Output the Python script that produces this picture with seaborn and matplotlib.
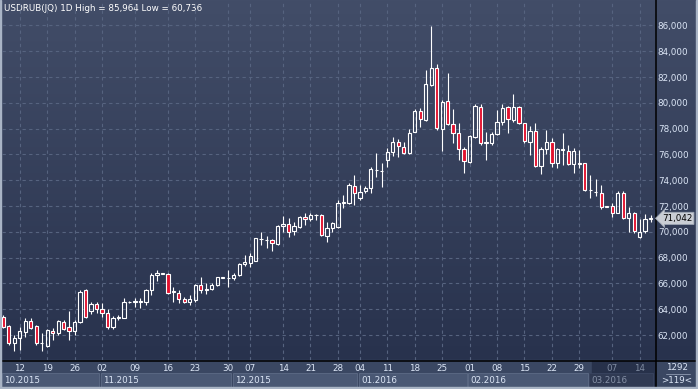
import matplotlib
matplotlib.use("Agg")
import matplotlib.pyplot as plt
import matplotlib.transforms as mtransforms
from matplotlib.colors import LinearSegmentedColormap
from matplotlib.patches import Rectangle
import numpy as np
import pandas as pd
import seaborn as sns

# USDRUB daily candles, Oct 2015 - Mar 2016
opens = [63.42, 62.70, 61.36, 61.74, 62.26, 63.09, 62.70, 61.36, 61.15, 62.33,
         62.13, 62.98, 62.60, 62.31, 62.98, 65.49, 63.88, 64.40, 63.99, 63.73,
         62.60, 63.29, 63.34, 64.55, 64.53, 64.55, 64.53, 65.49, 66.65, 66.76,
         66.71, 65.33, 65.23, 64.77, 64.58, 64.71, 65.88, 65.52, 65.54, 65.88,
         66.45, 66.42, 66.39, 66.65, 67.50, 67.60, 67.76, 69.42, 69.34, 69.36,
         69.05, 70.45, 70.60, 70.09, 70.40, 71.17, 70.97, 71.30, 71.30, 69.70,
         70.27, 70.40, 72.22, 72.26, 73.55, 72.60, 73.19, 73.37, 74.76, 74.70,
         75.57, 76.21, 76.99, 76.60, 76.09, 77.76, 79.39, 78.67, 81.38, 82.67,
         77.94, 80.16, 78.33, 77.63, 76.40, 75.43, 77.37, 79.70, 76.88, 76.86,
         77.58, 78.54, 79.70, 78.67, 79.65, 78.41, 76.98, 77.84, 75.10, 76.40,
         76.98, 75.31, 76.37, 76.29, 75.26, 75.29, 75.31, 73.22, 73.10, 73.03,
         71.93, 72.00, 71.48, 72.98, 71.04, 71.48, 69.62, 70.06, 71.00]
highs = [63.55, 62.78, 62.00, 62.64, 63.29, 63.29, 62.78, 62.15, 62.50, 62.52,
         63.16, 63.16, 63.86, 63.16, 65.50, 65.60, 64.58, 64.58, 64.45, 64.00,
         63.50, 63.55, 64.84, 64.62, 64.84, 64.84, 65.54, 66.78, 67.04, 66.80,
         66.80, 65.74, 65.49, 64.92, 65.10, 65.93, 66.47, 66.05, 66.05, 66.52,
         66.52, 67.04, 66.78, 67.56, 68.20, 68.38, 69.55, 70.01, 69.67, 69.42,
         70.50, 71.22, 71.04, 70.73, 71.22, 71.48, 71.43, 71.38, 71.35, 70.78,
         70.78, 72.47, 72.85, 73.76, 74.40, 73.63, 73.55, 75.05, 76.13, 75.36,
         76.47, 77.32, 77.17, 76.99, 77.94, 79.50, 79.57, 82.54, 85.964, 83.01,
         80.22, 82.30, 79.50, 78.41, 76.60, 77.50, 79.91, 79.91, 77.76, 77.76,
         79.44, 79.91, 79.75, 80.68, 79.75, 78.46, 78.20, 78.41, 76.60, 77.90,
         77.25, 76.47, 77.63, 76.73, 76.47, 76.34, 75.36, 74.40, 74.07, 73.63,
         72.00, 72.21, 73.16, 73.16, 71.90, 71.56, 70.97, 71.38, 71.30]
lows = [62.55, 61.22, 60.78, 60.84, 61.87, 62.44, 61.22, 60.736, 61.10, 61.61,
        62.00, 62.36, 61.61, 61.97, 62.90, 63.30, 63.60, 63.68, 63.42, 62.50,
        62.50, 63.16, 63.29, 64.50, 64.19, 64.07, 64.33, 65.10, 66.21, 66.74,
        65.20, 64.58, 64.46, 64.46, 64.33, 64.58, 65.23, 65.18, 65.49, 65.80,
        66.42, 65.74, 66.26, 66.60, 67.35, 67.25, 67.70, 68.98, 68.72, 68.53,
        69.00, 70.01, 69.62, 69.75, 70.27, 70.53, 70.86, 70.91, 69.70, 69.23,
        70.01, 70.30, 71.82, 72.16, 72.08, 72.47, 72.98, 72.98, 74.27, 73.50,
        75.05, 75.88, 75.77, 76.05, 76.03, 77.76, 78.10, 78.62, 81.30, 77.89,
        76.29, 78.30, 76.91, 75.57, 74.58, 75.31, 77.25, 76.73, 75.57, 76.73,
        77.50, 78.28, 77.63, 78.54, 78.36, 76.91, 75.95, 75.00, 74.48, 76.03,
        75.00, 74.92, 75.18, 75.18, 74.53, 74.92, 73.19, 72.60, 72.78, 71.74,
        71.90, 71.17, 71.43, 70.97, 70.01, 69.88, 69.50, 69.88, 70.78]
closes = [62.64, 61.36, 61.74, 62.31, 63.09, 62.57, 61.36, 61.40, 62.39, 62.13,
          63.09, 62.47, 62.33, 62.98, 65.36, 63.42, 64.40, 63.99, 63.68, 62.60,
          63.29, 63.42, 64.58, 64.58, 64.64, 64.62, 65.49, 66.65, 66.83, 66.80,
          65.28, 65.38, 64.77, 64.58, 64.77, 65.88, 65.49, 65.56, 65.88, 66.47,
          66.49, 66.45, 66.65, 67.48, 67.68, 68.12, 69.50, 69.46, 69.38, 69.11,
          70.45, 70.60, 70.01, 70.45, 71.17, 70.97, 71.30, 71.32, 69.75, 70.27,
          70.66, 72.26, 72.28, 73.63, 72.98, 73.11, 73.37, 74.84, 74.82, 74.74,
          76.21, 76.99, 76.68, 76.09, 77.63, 79.39, 78.72, 81.46, 82.67, 78.02,
          80.09, 78.36, 77.63, 76.40, 75.46, 77.45, 79.75, 76.86, 76.93, 77.55,
          78.54, 79.62, 78.72, 79.70, 78.41, 77.04, 77.84, 75.10, 76.40, 76.98,
          75.31, 76.40, 76.42, 75.26, 76.29, 75.33, 73.24, 73.26, 73.12, 71.95,
          71.97, 71.48, 72.98, 71.04, 71.48, 70.09, 70.01, 70.97, 71.042]

tickBars = [4, 9, 14, 19, 25, 31, 36, 42, 46, 52, 57, 62, 66, 71, 76, 81, 86,
            91, 96, 101, 106, 112, 117]
tickLabels = ['12', '19', '26', '02', '09', '16', '23', '30', '07', '14', '21',
              '28', '04', '11', '18', '25', '01', '08', '15', '22', '29', '07', '14']
monthStarts = [1, 19, 43, 66, 86, 108]
monthLabels = ['10.2015', '11.2015', '12.2015', '01.2016', '02.2016', '03.2016']
priceTicks = [62, 64, 66, 68, 70, 72, 74, 76, 78, 80, 82, 84, 86]
lastPrice = 71.042
title = 'USDRUB(JQ) 1D High = 85,964 Low = 60,736'
barCount = '1292'
barsShown = '>119<'

sns.set_style('dark')
plt.rcParams['font.family'] = ['DejaVu Sans']

W, H = 698, 389
RED = '#e2122f'
TXT = '#dce6f6'
FS = 6.3

fig = plt.figure(figsize=(W / 100, H / 100), dpi=100)

# background layer in pixel coordinates
bg = fig.add_axes([0, 0, 1, 1], zorder=0)
grad = np.linspace(0, 1, 256).reshape(-1, 1)
cmap = LinearSegmentedColormap.from_list('bg', ['#424d68', '#28324d'])
bg.imshow(grad, cmap=cmap, extent=(0, W, 360, 0), aspect='auto', interpolation='bilinear')
bg.add_patch(Rectangle((0, 360), W, 29, color='#3a4762'))
bg.set_xlim(0, W)
bg.set_ylim(H, 0)
bg.axis('off')

# main chart
ax = fig.add_axes([2 / W, 29 / H, 653 / W, 360 / H], zorder=1)
ax.set_facecolor('none')

df = pd.DataFrame({'x': np.arange(1, len(opens) + 1), 'open': opens,
                   'high': highs, 'low': lows, 'close': closes})
df['up'] = df['close'] >= df['open']
df['top'] = df[['open', 'close']].max(axis=1)
df['bot'] = df[['open', 'close']].min(axis=1)
df['body'] = (df['top'] - df['bot']).clip(lower=0.02)

ax.vlines(df['x'], df['top'], df['high'], color='white', lw=0.8, zorder=3)
ax.vlines(df['x'], df['low'], df['bot'], color='white', lw=0.8, zorder=3)
ax.bar(df['x'], df['body'], bottom=df['bot'], width=0.6,
       color=np.where(df['up'], 'none', RED), edgecolor='white',
       linewidth=0.8, zorder=4)

ax.set_xlim(0.763, 119.8)
ax.set_ylim(60.062, 87.97)
ax.grid(True, color='#56637f', linestyle=(0, (3, 3)), linewidth=0.8)
for s in ax.spines.values():
    s.set_visible(False)

ax.yaxis.tick_right()
ax.set_yticks(priceTicks, [f'{v:.3f}'.replace('.', ',') for v in priceTicks])
ax.tick_params(axis='y', length=0, pad=2, labelsize=FS, labelcolor=TXT)
ax.set_xticks(tickBars, tickLabels)
ax.tick_params(axis='x', length=0, pad=3, labelsize=FS, labelcolor=TXT)
for lbl, b in zip(ax.get_xticklabels(), tickBars):
    if b >= monthStarts[-1]:
        lbl.set_color('#7f8ba1')

# bottom axis panel: month boxes and the dark tail area
mix = mtransforms.blended_transform_factory(ax.transData, bg.transData)
ends = monthStarts[1:] + [120]
bg.add_patch(Rectangle((monthStarts[-1] + 0.3, 361), ax.get_xlim()[1] - monthStarts[-1] - 0.3, 26,
                       transform=mix, color='#27314a', zorder=1))
for i, (s, e, m) in enumerate(zip(monthStarts, ends, monthLabels)):
    last = i == len(monthLabels) - 1
    bg.add_patch(Rectangle((s - 0.2, 373), e - s - 0.3, 14, transform=mix,
                           facecolor='#303a53' if last else '#4a5874',
                           edgecolor='#5d6b86' if not last else '#3a4560',
                           lw=0.6, zorder=2))
    bg.text(s + 0.2, 380.5, m, transform=mix, fontsize=FS, va='center', ha='left',
            color='#8590a6' if last else TXT, zorder=3)

# separators and frame
bg.plot([655.5, 655.5], [0, 387], color='black', lw=1.1, zorder=5)
bg.plot([0, W], [360.5, 360.5], color='black', lw=1.1, zorder=5)
bg.add_patch(Rectangle((0, 387), W, 2, color='#a9b4c5', zorder=6))
bg.add_patch(Rectangle((696, 0), 2, H, color='#a9b4c5', zorder=6))
bg.add_patch(Rectangle((0, 0), 1.2, H, color='#a9b4c5', zorder=6))

# header text and bar counter
bg.text(4, 8.5, title, fontsize=FS, color='white', va='center', ha='left', zorder=5)
bg.text(677, 367.5, barCount, fontsize=FS, color=TXT, va='center', ha='center', zorder=5)
bg.plot([666, 690], [373.5, 373.5], color='#8e9ab0', lw=0.6, zorder=5)
bg.text(677, 380.5, barsShown, fontsize=FS, color=TXT, va='center', ha='center', zorder=5)

# last price tag
tag = mtransforms.blended_transform_factory(bg.transData, ax.transData)
ax.text(662, lastPrice, f'{lastPrice:.3f}'.replace('.', ','), transform=tag,
        fontsize=FS, color='black', va='center', ha='left', clip_on=False, zorder=6,
        bbox=dict(boxstyle='larrow,pad=0.18', fc='#c9cdd4', ec='#9ea6b4', lw=0.6))

fig.savefig('out.png', dpi=100)
